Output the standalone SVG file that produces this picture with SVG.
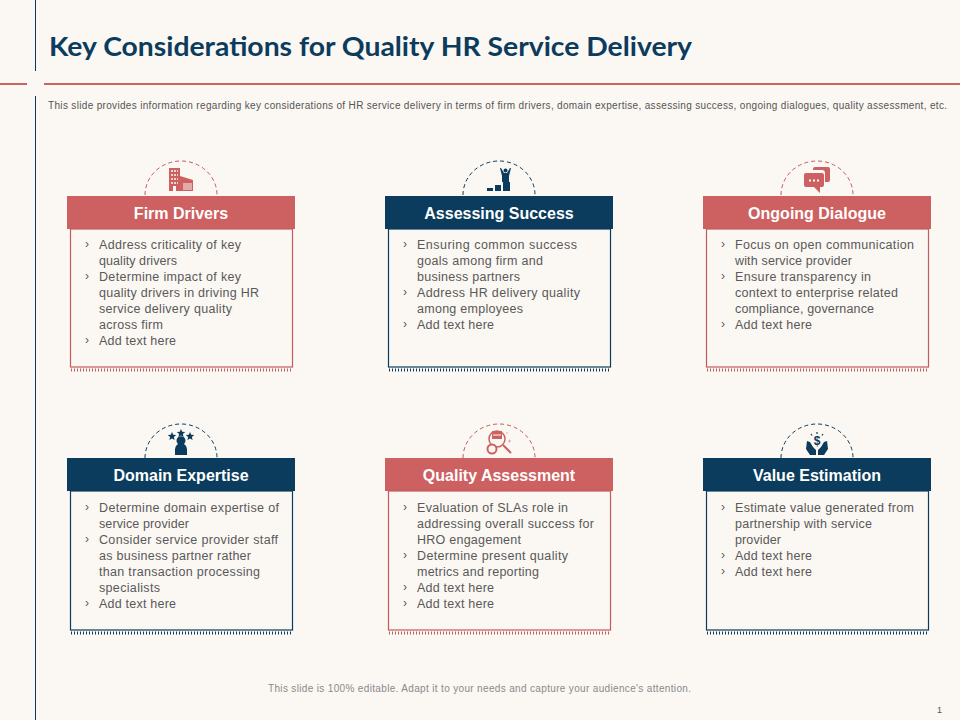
<svg xmlns="http://www.w3.org/2000/svg" width="960" height="720" viewBox="0 0 960 720">
<style>
text{font-family:"Liberation Sans",Arial,sans-serif}
.title{font-family:"Lato","Liberation Sans",sans-serif;font-weight:700;font-size:26px;fill:#0B3C5D}
.sub{font-size:10px;fill:#555}
.hd{font-size:16px;font-weight:700;fill:#fff;text-anchor:middle}
.b{font-size:12.500px;fill:#595959}
.m{font-size:12px;fill:#595959}
.foot{font-size:10px;fill:#8a8a8a}
.r{fill:#CD6060}.n{fill:#0B3C5D}
.box{fill:none;stroke-width:1.2}
.rs{stroke:#C25B5B}.ns{stroke:#0B3C5D}
.arc{fill:none;stroke-width:1;stroke-dasharray:4 3}
.dots{fill:none;stroke-width:3;stroke-dasharray:1 2}
</style>
<rect width="960" height="720" fill="#FBF7F3"/>
<g id="frame">
<path d="M35.500 0V71M35.500 96V720" stroke="#0B3C5D" stroke-width="1" fill="none"/>
<path d="M0 84H27M44 84H960" stroke="#C86464" stroke-width="2" fill="none"/>
</g>
<text class="title" x="49" y="56" textLength="643" lengthAdjust="spacingAndGlyphs">Key Considerations for Quality HR Service Delivery</text>
<text class="sub" x="48" y="109" textLength="899" lengthAdjust="spacing">This slide provides information regarding key considerations of HR service delivery in terms of firm drivers, domain expertise, assessing success, ongoing dialogues, quality assessment, etc.</text>

<g id="firm-drivers">
<path class="arc rs" d="M145 195A36 34 0 0 1 217 195"/>
<path class="r" d="M169 168h11v23h-4v-5h-3v5h-4zM180 176l13 4v11h-13z"/>
<path d="M171 171h7M171 175h7M171 179h7M171 183h7" stroke="#FBF7F3" stroke-width="1.500" stroke-dasharray="2 1" fill="none"/>
<rect x="183" y="183" width="9" height="7" fill="#E4A9A9"/>
<rect class="r" x="67" y="196" width="228" height="33"/>
<text class="hd" x="181" y="219">Firm Drivers</text>
<rect class="box rs" x="70.500" y="229" width="222" height="138"/>
<path class="dots rs" d="M71 370H292"/>
<text class="m" x="85" y="248">›</text><text class="b" x="99" y="249" textLength="142">Address criticality of key</text>
<text class="b" x="99" y="265" textLength="78">quality drivers</text>
<text class="m" x="85" y="280">›</text><text class="b" x="99" y="281" textLength="142">Determine impact of key</text>
<text class="b" x="99" y="297" textLength="160">quality drivers in driving HR</text>
<text class="b" x="99" y="313" textLength="133">service delivery quality</text>
<text class="b" x="99" y="329" textLength="64">across firm</text>
<text class="m" x="85" y="344">›</text><text class="b" x="99" y="345" textLength="77">Add text here</text>
</g>

<g id="assessing-success">
<path class="arc ns" d="M463 195A36 34 0 0 1 535 195"/>
<path class="n" d="M487 188h6v3h-6zM495 185h6v6h-6zM503 182h7v9h-7z"/>
<path class="n" d="M500 168l1 0 3 5h3l3-5 1 0-2 8v6h-7v-6z"/>
<circle class="n" cx="505.500" cy="170.500" r="2"/>
<rect class="n" x="385" y="196" width="228" height="33"/>
<text class="hd" x="499" y="219">Assessing Success</text>
<rect class="box ns" x="388.500" y="229" width="222" height="138"/>
<path class="dots ns" d="M389 370H610"/>
<text class="m" x="403" y="248">›</text><text class="b" x="417" y="249" textLength="160">Ensuring common success</text>
<text class="b" x="417" y="265" textLength="126">goals among firm and</text>
<text class="b" x="417" y="281" textLength="103">business partners</text>
<text class="m" x="403" y="296">›</text><text class="b" x="417" y="297" textLength="163">Address HR delivery quality</text>
<text class="b" x="417" y="313" textLength="106">among employees</text>
<text class="m" x="403" y="328">›</text><text class="b" x="417" y="329" textLength="77">Add text here</text>
</g>

<g id="ongoing-dialogue">
<path class="arc rs" d="M781 195A36 34 0 0 1 853 195"/>
<path class="r" d="M815 167h13a2 2 0 0 1 2 2v11a2 2 0 0 1-2 2h-3v-9a3 3 0 0 0-3-3h-9v-1a2 2 0 0 1 2-2z"/>
<path class="r" d="M806 173h16a2 2 0 0 1 2 2v10a2 2 0 0 1-2 2h-2v6l-6-6h-8a2 2 0 0 1-2-2v-10a2 2 0 0 1 2-2z"/>
<path d="M809 180.500h10" stroke="#FBF7F3" stroke-width="2" stroke-dasharray="2 2" fill="none"/>
<rect class="r" x="703" y="196" width="228" height="33"/>
<text class="hd" x="817" y="219">Ongoing Dialogue</text>
<rect class="box rs" x="706.500" y="229" width="222" height="138"/>
<path class="dots rs" d="M707 370H928"/>
<text class="m" x="721" y="248">›</text><text class="b" x="735" y="249" textLength="179">Focus on open communication</text>
<text class="b" x="735" y="265" textLength="117">with service provider</text>
<text class="m" x="721" y="280">›</text><text class="b" x="735" y="281" textLength="136">Ensure transparency in</text>
<text class="b" x="735" y="297" textLength="163">context to enterprise related</text>
<text class="b" x="735" y="313" textLength="139">compliance, governance</text>
<text class="m" x="721" y="328">›</text><text class="b" x="735" y="329" textLength="77">Add text here</text>
</g>

<g id="domain-expertise">
<path class="arc ns" d="M145 458A36 34 0 0 1 217 458"/>
<path class="n" d="M175 455v-6a6 6 0 0 1 3-5 4.500 4.500 0 1 1 6 0 6 6 0 0 1 3 5v6z"/>
<path class="n" d="M172 432l1.200 2.800 3 .3-2.300 2 .7 3-2.600-1.600-2.600 1.600.7-3-2.300-2 3-.3z"/>
<path class="n" d="M181 429l1.200 2.800 3 .3-2.300 2 .7 3-2.600-1.600-2.600 1.600.7-3-2.300-2 3-.3z"/>
<path class="n" d="M190 432l1.200 2.800 3 .3-2.300 2 .7 3-2.600-1.600-2.600 1.600.7-3-2.300-2 3-.3z"/>
<rect class="n" x="67" y="458" width="228" height="33"/>
<text class="hd" x="181" y="481">Domain Expertise</text>
<rect class="box ns" x="70.500" y="491" width="222" height="139"/>
<path class="dots ns" d="M71 633H292"/>
<text class="m" x="85" y="511">›</text><text class="b" x="99" y="512" textLength="180">Determine domain expertise of</text>
<text class="b" x="99" y="528" textLength="90">service provider</text>
<text class="m" x="85" y="543">›</text><text class="b" x="99" y="544" textLength="179">Consider service provider staff</text>
<text class="b" x="99" y="560" textLength="152">as business partner rather</text>
<text class="b" x="99" y="576" textLength="161">than transaction processing</text>
<text class="b" x="99" y="592" textLength="61">specialists</text>
<text class="m" x="85" y="607">›</text><text class="b" x="99" y="608" textLength="77">Add text here</text>
</g>

<g id="quality-assessment">
<path class="arc rs" d="M463 458A36 34 0 0 1 535 458"/>
<circle cx="497" cy="439" r="8" fill="none" stroke="#CD6060" stroke-width="1.500"/>
<rect class="r" x="492" y="431" width="10" height="8"/>
<path d="M493 435h8" stroke="#FBF7F3" stroke-width="1"/>
<circle cx="492" cy="449" r="4.500" fill="#FBF7F3" stroke="#CD6060" stroke-width="2"/>
<path d="M503 445l8 8" stroke="#CD6060" stroke-width="2" fill="none"/>
<path d="M508 441h3M509.500 439.500v3M506 433h2" stroke="#E4A9A9" stroke-width="1" fill="none"/>
<rect class="r" x="385" y="458" width="228" height="33"/>
<text class="hd" x="499" y="481">Quality Assessment</text>
<rect class="box rs" x="388.500" y="491" width="222" height="139"/>
<path class="dots rs" d="M389 633H610"/>
<text class="m" x="403" y="511">›</text><text class="b" x="417" y="512" textLength="151">Evaluation of SLAs role in</text>
<text class="b" x="417" y="528" textLength="177">addressing overall success for</text>
<text class="b" x="417" y="544" textLength="104">HRO engagement</text>
<text class="m" x="403" y="559">›</text><text class="b" x="417" y="560" textLength="151">Determine present quality</text>
<text class="b" x="417" y="576" textLength="122">metrics and reporting</text>
<text class="m" x="403" y="591">›</text><text class="b" x="417" y="592" textLength="77">Add text here</text>
<text class="m" x="403" y="607">›</text><text class="b" x="417" y="608" textLength="77">Add text here</text>
</g>

<g id="value-estimation">
<path class="arc ns" d="M781 458A36 34 0 0 1 853 458"/>
<path class="n" d="M807 441l3 1 3 5 3 3v5h-6l-4-6zM827 441l-3 1-3 5-3 3v5h6l4-6z"/>
<text x="817" y="445" font-size="12" font-weight="700" text-anchor="middle" fill="#0B3C5D">$</text>
<path d="M817 432v2M811 434l1 1.500M823 434l-1 1.500" stroke="#0B3C5D" stroke-width="1.200" fill="none"/>
<rect class="n" x="703" y="458" width="228" height="33"/>
<text class="hd" x="817" y="481">Value Estimation</text>
<rect class="box ns" x="706.500" y="491" width="222" height="139"/>
<path class="dots ns" d="M707 633H928"/>
<text class="m" x="721" y="511">›</text><text class="b" x="735" y="512" textLength="179">Estimate value generated from</text>
<text class="b" x="735" y="528" textLength="137">partnership with service</text>
<text class="b" x="735" y="544" textLength="46">provider</text>
<text class="m" x="721" y="559">›</text><text class="b" x="735" y="560" textLength="77">Add text here</text>
<text class="m" x="721" y="575">›</text><text class="b" x="735" y="576" textLength="77">Add text here</text>
</g>

<text class="foot" x="268" y="692" textLength="423" lengthAdjust="spacing">This slide is 100% editable.  Adapt it to your needs and capture your audience's attention.</text>
<text x="937" y="713" font-size="9" fill="#555">1</text>
</svg>
